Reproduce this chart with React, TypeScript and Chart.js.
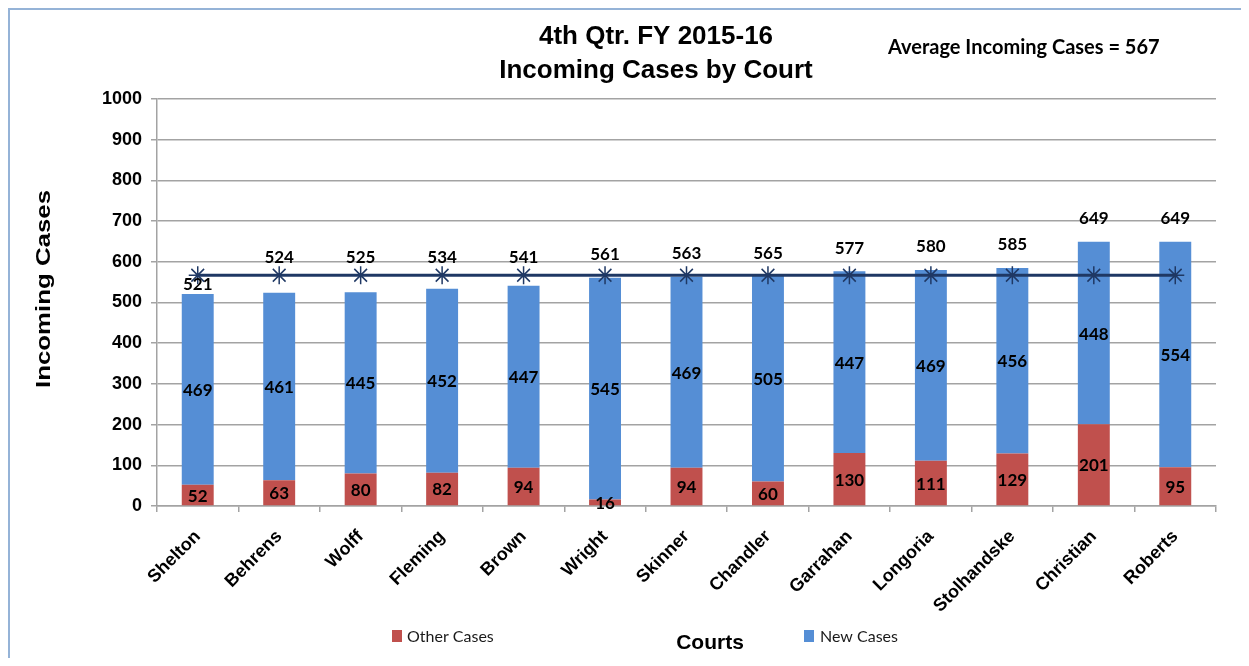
import React, { useEffect, useRef } from "react";
import { Chart, registerables } from "chart.js";

Chart.register(...registerables);

// ---- data ----
const courts = [
  "Shelton", "Behrens", "Wolff", "Fleming", "Brown", "Wright", "Skinner",
  "Chandler", "Garrahan", "Longoria", "Stolhandske", "Christian", "Roberts",
];
const otherCases = [52, 63, 80, 82, 94, 16, 94, 60, 130, 111, 129, 201, 95];
const newCases = [469, 461, 445, 452, 447, 545, 469, 505, 447, 469, 456, 448, 554];
const totalCases = [521, 524, 525, 534, 541, 561, 563, 565, 577, 580, 585, 649, 649];
const averageIncoming = 567;
const averageLine = courts.map(() => averageIncoming);
const yMin = 0;
const yMax = 1000;
const yStep = 100;

const titleLines = ["4th Qtr. FY 2015-16", "Incoming Cases by Court"];
const averageText = "Average Incoming Cases = " + averageIncoming;
const legendLabels = ["Other Cases", "New Cases"];

const RED = "#c0504d";
const BLUE = "#558ed5";
const NAVY = "#1f3864";
const GRID = "#a3a3a3";
const ARIAL = '"Liberation Sans", Arial, sans-serif';
const CALIBRI = 'Lato, "Open Sans", sans-serif';

if (typeof document !== "undefined") {
  document.documentElement.style.overflow = "hidden";
  document.body.style.overflow = "hidden";
}

const overlayPlugin = {
  id: "overlay",
  afterDatasetsDraw(chart: any) {
    const ctx: CanvasRenderingContext2D = chart.ctx;
    const yScale = chart.scales.y;
    ctx.save();
    ctx.fillStyle = "#000";
    ctx.textAlign = "center";
    ctx.textBaseline = "middle";
    ctx.font = `bold 17px ${CALIBRI}`;
    // segment labels
    [0, 1].forEach((di) => {
      const meta = chart.getDatasetMeta(di);
      const vals = chart.data.datasets[di].data;
      meta.data.forEach((el: any, i: number) => {
        const cy = (el.y + el.base) / 2;
        ctx.fillText(String(vals[i]), el.x, cy + 1);
      });
    });
    // totals
    const avgY = yScale.getPixelForValue(averageIncoming);
    const meta = chart.getDatasetMeta(1);
    meta.data.forEach((el: any, i: number) => {
      const top = yScale.getPixelForValue(totalCases[i]);
      let y = Math.min(top - 23, avgY - 18);
      if (i === 0) y = top - 9; // the original nudged this one below the line
      ctx.fillText(String(totalCases[i]), el.x, y);
    });
    ctx.restore();
  },
  afterDraw(chart: any) {
    const ctx: CanvasRenderingContext2D = chart.ctx;
    ctx.save();
    ctx.fillStyle = "#000";
    ctx.textBaseline = "middle";

    // title
    ctx.textAlign = "center";
    ctx.font = `bold 26px ${ARIAL}`;
    ctx.fillText(titleLines[0], 646, 27);
    ctx.fillText(titleLines[1], 646, 61);

    // average text
    ctx.textAlign = "left";
    ctx.font = `bold 20px ${CALIBRI}`;
    ctx.fillText(averageText, 878, 38, 272);

    // y title
    ctx.save();
    ctx.translate(34, 279);
    ctx.rotate(-Math.PI / 2);
    ctx.font = `bold 20px ${ARIAL}`;
    const w = ctx.measureText("Incoming Cases").width;
    ctx.scale(198 / w, 1);
    ctx.textAlign = "center";
    ctx.fillText("Incoming Cases", 0, 0);
    ctx.restore();

    // x title
    ctx.textAlign = "center";
    ctx.font = `bold 21px ${ARIAL}`;
    ctx.fillText("Courts", 700, 633);

    // legend
    ctx.textAlign = "left";
    ctx.font = `16px ${CALIBRI}`;
    ctx.fillStyle = RED;
    ctx.fillRect(382, 620, 10, 12);
    ctx.fillStyle = "#1a1a1a";
    ctx.fillText(legendLabels[0], 397, 627, 90);
    ctx.fillStyle = BLUE;
    ctx.fillRect(794, 620, 10, 12);
    ctx.fillStyle = "#1a1a1a";
    ctx.fillText(legendLabels[1], 810, 627, 80);
    ctx.restore();
  },
};

export default function App() {
  const ref = useRef<HTMLCanvasElement>(null);
  useEffect(() => {
    const chart = new Chart(ref.current as HTMLCanvasElement, {
      data: {
        labels: courts,
        datasets: [
          {
            type: "bar",
            label: legendLabels[0],
            data: otherCases,
            backgroundColor: RED,
            stack: "cases",
            order: 2,
            categoryPercentage: 0.4,
            barPercentage: 0.98,
          },
          {
            type: "bar",
            label: legendLabels[1],
            data: newCases,
            backgroundColor: BLUE,
            stack: "cases",
            order: 2,
            categoryPercentage: 0.4,
            barPercentage: 0.98,
          },
          {
            type: "line",
            label: "Average",
            data: averageLine,
            borderColor: NAVY,
            borderWidth: 3,
            pointStyle: "star",
            pointRadius: 9,
            pointBorderColor: NAVY,
            pointBorderWidth: 1.5,
            pointBackgroundColor: NAVY,
            stack: "avg",
            order: 0,
          },
        ] as any,
      },
      options: {
        responsive: false,
        maintainAspectRatio: false,
        animation: false,
        layout: { padding: { top: 89, right: 33, left: 0, bottom: 0 } },
        plugins: {
          legend: { display: false },
          tooltip: { enabled: false },
          title: { display: false },
        },
        scales: {
          x: {
            stacked: true,
            grid: {
              display: true,
              drawOnChartArea: false,
              offset: true,
              tickLength: 6,
              color: GRID,
              lineWidth: 1.5,
            },
            border: { color: GRID, width: 1.5 },
            ticks: {
              color: "#000",
              font: { family: ARIAL, size: 18, weight: "bold" },
              minRotation: 45,
              maxRotation: 45,
              padding: 14,
              autoSkip: false,
            },
            afterFit: (s: any) => {
              s.height = 152;
            },
          },
          y: {
            stacked: true,
            min: yMin,
            max: yMax,
            ticks: {
              stepSize: yStep,
              color: "#000",
              font: { family: ARIAL, size: 18, weight: "bold" },
              padding: 9,
              callback: (v: any) => String(v),
            },
            grid: { color: GRID, lineWidth: 1.5, tickLength: 6 },
            border: { color: GRID, width: 1.5 },
            afterFit: (s: any) => {
              s.width = 147;
            },
          },
        },
      },
      plugins: [overlayPlugin],
    } as any);
    return () => chart.destroy();
  }, []);

  return (
    <div
      style={{
        width: 1241,
        height: 650,
        borderLeft: "2px solid #95b3d7",
        borderTop: "2px solid #95b3d7",
        boxSizing: "border-box",
        background: "#fff",
        overflow: "hidden",
      }}
    >
      <canvas ref={ref} width={1239} height={648} style={{ display: "block" }} />
    </div>
  );
}
